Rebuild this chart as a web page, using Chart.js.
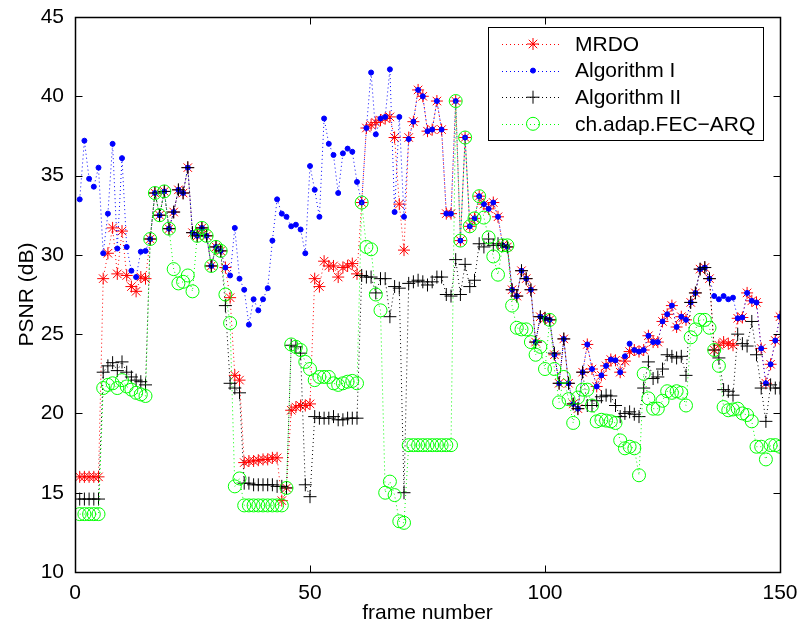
<!DOCTYPE html>
<html><head><meta charset="utf-8">
<script src="https://cdn.jsdelivr.net/npm/chart.js@4.4.1/dist/chart.umd.min.js"></script>
<style>html,body{margin:0;padding:0;background:#fff;}#wrap{width:800px;height:633px;}</style>
</head><body><div id="wrap"><canvas id="c" width="800" height="633"></canvas></div>
<script>
const frames = [1,2,3,4,5,6,7,8,9,10,11,12,13,14,15,16,17,18,19,20,21,22,23,24,25,26,27,28,29,30,
31,32,33,34,35,36,37,38,39,40,41,42,43,44,45,46,47,48,49,50,51,52,53,54,55,56,57,58,59,60,
61,62,63,64,65,66,67,68,69,70,71,72,73,74,75,76,77,78,79,80,81,82,83,84,85,86,87,88,89,90,
91,92,93,94,95,96,97,98,99,100,101,102,103,104,105,106,107,108,109,110,111,112,113,114,115,116,117,118,119,120,
121,122,123,124,125,126,127,128,129,130,131,132,133,134,135,136,137,138,139,140,141,142,143,144,145,146,147,148,149,150];

const mrdo = [16.0,16.0,16.0,16.0,16.0,28.5,30.1,31.7,28.8,31.5,
28.7,28.0,27.7,28.6,28.5,31.0,33.9,32.5,34.0,31.65,
32.7,34.1,33.9,35.5,31.4,31.2,31.7,31.2,29.3,30.5,
30.25,29.2,27.3,22.4,22.1,16.9,17.0,17.0,17.05,17.1,
17.1,17.2,17.2,14.5,15.3,20.2,20.4,20.5,20.5,20.6,
28.5,28.0,29.6,29.3,29.3,28.6,29.2,29.3,29.45,28.8,
33.3,38.0,38.2,38.35,38.5,38.6,38.7,37.4,33.2,30.3,
37.4,38.4,40.4,40.0,37.8,37.9,39.7,37.9,32.6,32.6,
39.7,30.9,37.4,31.8,32.3,33.7,33.2,32.9,33.3,32.4,
30.6,30.5,27.8,27.4,29.0,28.5,27.8,24.5,26.1,26.0,
25.9,23.7,21.9,24.7,21.9,20.6,20.3,22.6,24.35,22.8,
21.7,22.4,23.0,23.4,23.35,22.6,23.3,23.9,24.0,23.9,
24.0,24.9,24.5,24.5,25.8,26.25,26.8,25.45,26.1,25.9,
27.0,27.6,29.1,29.2,28.5,24.0,24.3,24.5,24.4,24.3,
26.0,26.05,27.6,27.1,27.0,24.1,21.9,23.1,24.6,26.1];

const algI = [33.5,37.2,34.8,34.3,35.5,30.1,32.6,37.0,30.4,36.1,
30.5,29.0,28.6,30.2,30.25,31.0,33.9,32.5,34.0,31.65,
32.7,34.1,33.9,35.5,31.4,31.2,31.7,31.2,29.3,30.5,
30.25,29.2,28.7,31.7,28.5,27.8,25.6,27.2,26.5,27.2,
27.9,30.9,33.5,32.6,32.4,31.8,31.9,31.6,30.1,35.6,
34.1,32.4,38.6,37.0,36.3,33.9,36.4,36.7,36.5,34.6,
33.3,38.0,41.5,37.6,38.6,38.7,41.7,32.7,38.7,32.4,
37.3,38.4,40.4,40.0,37.8,37.9,39.7,37.9,32.6,32.6,
39.7,30.9,37.4,31.8,32.3,33.7,33.2,32.9,33.3,32.4,
30.6,30.5,27.8,27.4,29.0,28.5,27.8,24.5,26.1,26.0,
25.9,23.7,21.9,24.7,21.9,20.6,20.3,22.6,24.35,22.8,
21.7,22.4,23.0,23.4,23.35,22.6,23.6,24.4,24.0,23.9,
24.0,24.9,24.5,24.5,25.8,26.25,26.8,25.45,26.1,25.9,
27.0,27.6,29.1,29.2,28.5,27.4,27.2,27.4,27.2,27.3,
26.0,26.05,27.6,27.1,27.0,24.1,21.9,23.1,24.6,26.1];

const algII = [14.6,14.6,14.6,14.6,14.6,22.6,23.0,23.2,22.7,23.25,
22.6,22.3,22.1,22.0,21.8,31.0,33.9,32.5,34.0,31.65,
32.7,34.1,33.9,35.5,31.4,31.2,31.7,31.2,29.3,30.5,
30.25,26.8,21.9,21.6,21.3,15.6,15.6,15.5,15.5,15.5,
15.5,15.5,15.4,15.4,15.3,24.3,24.2,23.8,15.5,14.75,
19.8,19.7,19.7,19.7,19.8,19.6,19.6,19.7,19.7,19.7,
28.7,28.6,28.6,27.6,28.5,28.5,26.1,28.0,27.9,15.0,
28.2,28.3,28.4,28.3,28.1,28.3,28.6,28.6,27.5,27.4,
29.7,27.5,29.4,28.0,28.4,30.7,30.5,31.0,30.6,30.7,
30.6,30.5,27.8,27.4,29.0,28.5,27.8,24.5,26.1,26.0,
25.9,23.8,21.9,24.7,21.9,20.6,20.3,22.6,20.5,20.5,
20.8,21.05,21.15,21.1,20.5,19.8,20.0,20.1,19.95,19.8,
21.6,23.25,22.2,22.3,22.8,23.7,23.6,23.5,23.6,22.4,
27.0,27.6,29.1,29.2,28.5,24.0,23.5,21.5,21.4,21.15,
25.0,24.4,24.25,25.8,23.7,21.6,19.5,21.8,21.6,21.6];

const fecArq = [13.65,13.65,13.65,13.65,13.65,21.6,21.8,21.9,21.6,22.1,
21.7,21.5,21.3,21.2,21.1,31.0,33.9,32.5,34.0,31.65,
29.1,28.2,28.3,28.7,27.7,31.2,31.7,31.2,29.3,30.5,
30.25,27.5,25.7,15.4,15.9,14.2,14.2,14.2,14.2,14.2,
14.2,14.2,14.2,14.2,15.3,24.35,24.2,24.0,23.25,22.8,
22.1,22.3,22.3,22.3,21.9,21.8,21.9,22.0,22.05,21.9,
33.3,30.5,30.35,27.5,26.5,15.0,15.7,14.85,13.2,13.1,
18.0,18.0,18.0,18.0,18.0,18.0,18.0,18.0,18.0,18.0,
39.7,30.9,37.4,31.8,32.3,33.7,32.35,31.1,29.9,28.75,
30.6,30.6,26.8,25.4,25.3,25.3,24.5,23.7,24.2,22.8,
25.9,22.8,20.7,22.3,20.9,19.4,21.0,21.5,21.5,20.5,
19.5,19.6,19.55,19.5,19.4,18.3,17.8,17.9,17.8,16.1,
22.5,20.95,20.3,20.3,20.8,21.4,21.3,21.4,21.3,20.5,
24.8,25.3,25.9,25.9,25.4,24.0,23.0,20.4,20.2,20.25,
20.3,20.0,19.9,19.5,17.9,17.9,17.1,18.0,18.0,17.9];

const seriesNames = ['MRDO', 'Algorithm I', 'Algorithm II', 'ch.adap.FEC\u2212ARQ'];
const xTicks = [0, 50, 100, 150];
const yTicks = [10, 15, 20, 25, 30, 35, 40, 45];
const xTitle = 'frame number';
const yTitle = 'PSNR (dB)';

const FONT = '"Liberation Sans", Arial, Helvetica, sans-serif';
const FS = 21;
const colors = ['#ff0000', '#0000ff', '#000000', '#00ff00'];
const styles = [
  {pointStyle:'star', pointRadius:6, fill:true},
  {pointStyle:'circle', pointRadius:2.5, fill:true},
  {pointStyle:'cross', pointRadius:6.5, fill:false},
  {pointStyle:'circle', pointRadius:6.5, fill:false}
];
const seriesValues = [mrdo, algI, algII, fecArq];

function toPts(arr){ return arr.map((v,i)=>({x:frames[i], y:v})); }

const datasets = seriesValues.map((vals, k) => ({
  label: seriesNames[k],
  data: toPts(vals),
  showLine: true,
  borderColor: colors[k],
  borderWidth: 1,
  borderDash: [1, 3],
  pointStyle: styles[k].pointStyle,
  pointRadius: styles[k].pointRadius,
  pointHoverRadius: styles[k].pointRadius,
  pointBorderColor: colors[k],
  pointBackgroundColor: styles[k].fill ? colors[k] : 'rgba(0,0,0,0)',
  pointBorderWidth: 1,
  order: 4 - k
}));

const framePlugin = {
  id: 'mframe',
  afterDatasetsDraw(chart){
    const {ctx, chartArea:a, scales:{x, y}} = chart;
    ctx.save();
    ctx.strokeStyle = '#000';
    ctx.lineWidth = 1;
    ctx.beginPath();
    const L = Math.round(a.left)+0.5, R = Math.round(a.right)+0.5, T = Math.round(a.top)+0.5, B = Math.round(a.bottom)+0.5;
    const tl = 7;
    xTicks.forEach(v => { const px = Math.round(x.getPixelForValue(v))+0.5;
      ctx.moveTo(px, B); ctx.lineTo(px, B-tl); ctx.moveTo(px, T); ctx.lineTo(px, T+tl); });
    yTicks.forEach(v => { const py = Math.round(y.getPixelForValue(v))+0.5;
      ctx.moveTo(L, py); ctx.lineTo(L+tl, py); ctx.moveTo(R, py); ctx.lineTo(R-tl, py); });
    ctx.stroke();
    ctx.lineWidth = 1.5;
    ctx.strokeRect(L, T, R-L, B-T);
    ctx.restore();
  }
};

function drawMarker(ctx, k, cx, cy){
  const s = styles[k]; const r = s.pointRadius;
  ctx.strokeStyle = colors[k]; ctx.fillStyle = colors[k]; ctx.lineWidth = 1; ctx.setLineDash([]);
  ctx.beginPath();
  if (s.pointStyle === 'star'){
    ctx.moveTo(cx-r, cy); ctx.lineTo(cx+r, cy); ctx.moveTo(cx, cy-r); ctx.lineTo(cx, cy+r);
    const d = r*Math.SQRT1_2;
    ctx.moveTo(cx-d, cy-d); ctx.lineTo(cx+d, cy+d); ctx.moveTo(cx-d, cy+d); ctx.lineTo(cx+d, cy-d);
    ctx.stroke();
  } else if (s.pointStyle === 'cross'){
    ctx.moveTo(cx-r, cy); ctx.lineTo(cx+r, cy); ctx.moveTo(cx, cy-r); ctx.lineTo(cx, cy+r);
    ctx.stroke();
  } else {
    ctx.arc(cx, cy, r, 0, Math.PI*2);
    if (s.fill) ctx.fill(); ctx.stroke();
  }
}

const legendPlugin = {
  id: 'mlegend',
  afterDraw(chart){
    const ctx = chart.ctx;
    ctx.save();
    const bx = 488, by = 27, bw = 275, bh = 113;
    ctx.fillStyle = '#fff'; ctx.fillRect(bx, by, bw, bh);
    ctx.strokeStyle = '#000'; ctx.lineWidth = 1; ctx.strokeRect(bx+0.5, by+0.5, bw, bh);
    seriesNames.forEach((name, k) => {
      const yy = 44 + k*26.6;
      ctx.strokeStyle = colors[k]; ctx.lineWidth = 1; ctx.setLineDash([1,3]);
      ctx.beginPath(); ctx.moveTo(502, Math.round(yy)+0.5); ctx.lineTo(561, Math.round(yy)+0.5); ctx.stroke();
      drawMarker(ctx, k, 533, yy);
      ctx.fillStyle = '#000'; ctx.font = FS + 'px ' + FONT; ctx.textAlign = 'left'; ctx.textBaseline = 'middle';
      ctx.fillText(name, 575, yy+1);
    });
    ctx.restore();
  }
};

new Chart(document.getElementById('c'), {
  type: 'scatter',
  data: { datasets },
  options: {
    responsive: false, animation: false, devicePixelRatio: 1,
    layout: { padding: { left: 0, right: 20, top: 17, bottom: 0 } },
    plugins: { legend: { display: false }, tooltip: { enabled: false } },
    events: [],
    scales: {
      x: {
        type: 'linear', min: 0, max: 150,
        afterBuildTicks: s => { s.ticks = xTicks.map(v => ({value: v})); },
        afterFit: s => { s.height = 61; s.paddingLeft = 0; s.paddingRight = 0; },
        grid: { display: false, drawTicks: false },
        border: { display: false },
        ticks: { color: '#000', padding: 9, maxRotation: 0, font: { family: FONT, size: FS } },
        title: { display: true, text: xTitle, color: '#000', font: { family: FONT, size: FS }, padding: { top: 0, bottom: 7 } }
      },
      y: {
        type: 'linear', min: 10, max: 45,
        afterBuildTicks: s => { s.ticks = yTicks.map(v => ({value: v})); },
        afterFit: s => { s.width = 75; s.paddingTop = 0; s.paddingBottom = 0; },
        grid: { display: false, drawTicks: false },
        border: { display: false },
        ticks: { color: '#000', padding: 11, font: { family: FONT, size: FS } },
        title: { display: true, text: yTitle, color: '#000', font: { family: FONT, size: FS }, padding: { top: 15, bottom: 0 } }
      }
    }
  },
  plugins: [framePlugin, legendPlugin]
});
</script>
</body></html>
